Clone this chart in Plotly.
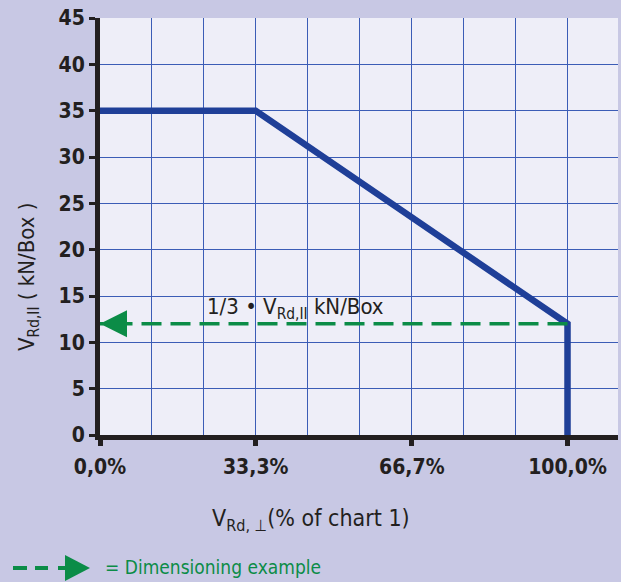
import plotly.graph_objects as go

# ---- data ----
curve_x = [0, 33.3, 100, 100]          # % of chart 1
curve_y = [35, 35, 12, 0]              # kN/Box
example_x = [100, 0]                   # dimensioning example path
example_y = [12, 12]
x_tickvals = [0, 33.3, 66.7, 100]
x_ticktext = ["0,0%", "33,3%", "66,7%", "100,0%"]
y_tickvals = [0, 5, 10, 15, 20, 25, 30, 35, 40, 45]

BLUE = "#1f3f98"
GREEN = "#0b8c47"
GRID = "#3b5cb6"
DARK = "#231f20"
NARROW = "DejaVu Sans Condensed, Liberation Sans Narrow, sans-serif"

# plot area in pixels (for paper-referenced decoration)
L, R, T, B = 100, 618, 18, 435
W, H = R - L, B - T
def px(x):
    return (x - L) / W
def py(y):
    return (B - y) / H

fig = go.Figure()

fig.add_trace(go.Scatter(
    x=curve_x, y=curve_y, mode="lines",
    line=dict(color=BLUE, width=6.5), hoverinfo="skip", showlegend=False,
))
fig.add_trace(go.Scatter(
    x=example_x, y=example_y, mode="lines",
    line=dict(color=GREEN, width=3.5, dash="20px,9px"),
    hoverinfo="skip", showlegend=False,
))
fig.add_trace(go.Scatter(
    x=[example_x[-1]], y=[example_y[-1]], mode="markers",
    marker=dict(symbol="arrow-left", size=27, color=GREEN, line=dict(width=0)),
    hoverinfo="skip", showlegend=False, cliponaxis=False,
))

fig.update_layout(
    width=621, height=582,
    margin=dict(l=L, r=621 - R, t=T, b=582 - B),
    paper_bgcolor="#c8c8e4",
    plot_bgcolor="#eeeef8",
    font=dict(family=NARROW, color=DARK),
    xaxis=dict(
        range=[0, 110.8], tickmode="array", tickvals=x_tickvals, ticktext=x_ticktext,
        showgrid=True, gridcolor=GRID, gridwidth=1.1,
        minor=dict(dtick=100 / 9, tick0=0, showgrid=True, gridcolor=GRID, gridwidth=1.1, ticks=""),
        showline=True, linecolor=DARK, linewidth=5,
        ticks="outside", ticklen=6, tickwidth=5, tickcolor=DARK,
        tickfont=dict(size=21, weight="bold", family=NARROW, color=DARK),
        ticklabelstandoff=3,
        zeroline=False, fixedrange=True,
    ),
    yaxis=dict(
        range=[0, 45], tickmode="array", tickvals=y_tickvals,
        showgrid=True, gridcolor=GRID, gridwidth=1.1,
        showline=True, linecolor=DARK, linewidth=5,
        ticks="outside", ticklen=6, tickwidth=3, tickcolor=DARK,
        tickfont=dict(size=21, weight="bold", family=NARROW, color=DARK),
        zeroline=False, fixedrange=True,
    ),
    annotations=[
        dict(x=22.5, y=example_y[0], xref="x", yref="y", xanchor="left", yanchor="bottom",
             yshift=-1, showarrow=False,
             text="1/3 • V<sub>Rd,II</sub> kN/Box",
             font=dict(size=22, family=NARROW, color=DARK)),
        dict(x=px(28), y=py(277), xref="paper", yref="paper", xanchor="center", yanchor="middle",
             textangle=-90, showarrow=False, text="V<sub>Rd,II</sub> ( kN/Box )",
             font=dict(size=22, family=NARROW, color=DARK)),
        dict(x=px(311), y=py(520), xref="paper", yref="paper", xanchor="center", yanchor="middle",
             showarrow=False, text="V<sub>Rd, ⊥</sub>(% of chart 1)",
             font=dict(size=23, family=NARROW, color=DARK)),
        dict(x=px(103), y=py(567), xref="paper", yref="paper", xanchor="left", yanchor="middle",
             showarrow=False, text="= Dimensioning example",
             font=dict(size=19, family=NARROW, color=GREEN)),
    ],
    shapes=[
        dict(type="line", xref="paper", yref="paper", x0=px(13), x1=px(27), y0=py(568), y1=py(568),
             line=dict(color=GREEN, width=4)),
        dict(type="line", xref="paper", yref="paper", x0=px(35), x1=px(48), y0=py(568), y1=py(568),
             line=dict(color=GREEN, width=4)),
        dict(type="line", xref="paper", yref="paper", x0=px(58), x1=px(66), y0=py(568), y1=py(568),
             line=dict(color=GREEN, width=4)),
        dict(type="path", xref="paper", yref="paper",
             path=f"M{px(65)},{py(555)} L{px(65)},{py(581)} L{px(90)},{py(568)} Z",
             fillcolor=GREEN, line=dict(width=0)),
    ],
)

fig.write_html(
    "out.html",
    config={"displayModeBar": False},
    post_script="document.body.style.margin='0';document.body.style.overflow='hidden';",
)
